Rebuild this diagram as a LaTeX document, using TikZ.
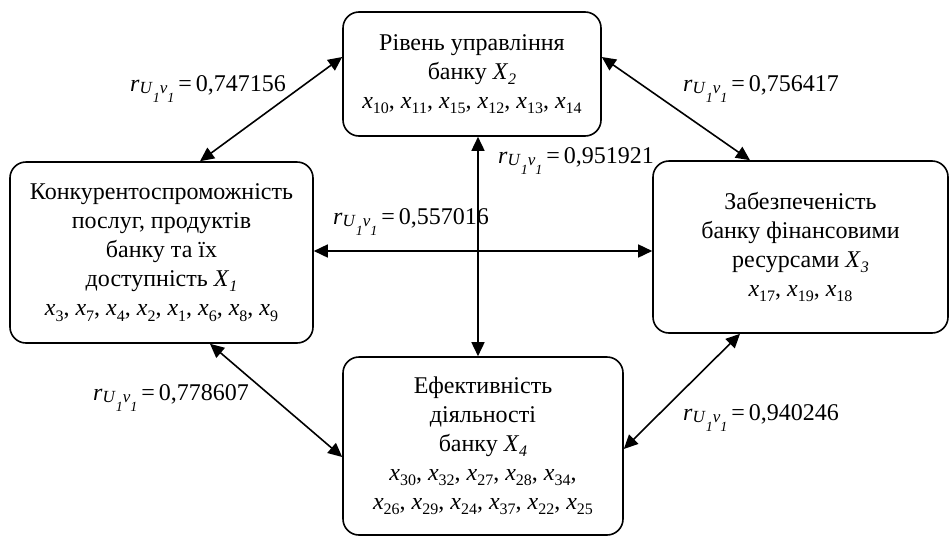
\documentclass[tikz,border=0pt]{standalone}
\usepackage{fontspec}
\setmainfont{Liberation Serif}
\usetikzlibrary{arrows.meta,calc}
\newcommand{\xs}[1]{\textit{x}\raisebox{-0.22em}{\fontsize{16}{16}\selectfont #1}}
\newcommand{\Xs}[1]{\textit{X}\raisebox{-0.2em}{\fontsize{16}{16}\selectfont\textit{#1}}}
\newcommand{\rl}[1]{\textit{r}\raisebox{-2pt}{\fontsize{17}{17}\selectfont\textit{U}\raisebox{-9pt}{\fontsize{14}{14}\selectfont\textit{1}}\textit{v}\raisebox{-9pt}{\fontsize{14}{14}\selectfont\textit{1}}}\,=\,#1}
\begin{document}
\begin{tikzpicture}[x=1pt,y=-1pt,
  box/.style={draw,line width=1.6pt,rounded corners=16pt,align=center,inner sep=0pt,
    font=\fontsize{24}{29}\selectfont},
  lbl/.style={font=\fontsize{24}{29}\selectfont,inner sep=0pt},
  link/.style={line width=1.6pt,{Triangle[length=14pt,width=13pt]}-{Triangle[length=14pt,width=13pt]}}]
\useasboundingbox (0,0) rectangle (950,536);
\node[box,minimum width=258pt,minimum height=124pt] (X2) at (472,74)
  {Рівень управління\\ банку \Xs{2}\\ \xs{10}, \xs{11}, \xs{15}, \xs{12}, \xs{13}, \xs{14}};
\node[box,minimum width=303pt,minimum height=181pt] (X1) at (161.5,252.5)
  {Конкурентоспроможність\\ послуг, продуктів\\ банку та їх\\ доступність \Xs{1}\\ \xs{3}, \xs{7}, \xs{4}, \xs{2}, \xs{1}, \xs{6}, \xs{8}, \xs{9}};
\node[box,minimum width=295pt,minimum height=172pt] (X3) at (800.5,247)
  {Забезпеченість\\ банку фінансовими\\ ресурсами \Xs{3}\\ \xs{17}, \xs{19}, \xs{18}};
\node[box,minimum width=280pt,minimum height=178pt] (X4) at (483,446)
  {Ефективність\\ діяльності\\ банку \Xs{4}\\ \xs{30}, \xs{32}, \xs{27}, \xs{28}, \xs{34},\\ \xs{26}, \xs{29}, \xs{24}, \xs{37}, \xs{22}, \xs{25}};
\draw[link] (X1.north -| 200,0) -- (X2.west |- 0,57);
\draw[link] (X2.east |- 0,57) -- (X3.north -| 750,0);
\draw[link] (X1.south -| 210,0) -- (X4.west |- 0,457);
\draw[link] (X3.south -| 740,0) -- (X4.east |- 0,449);
\draw[link] (X2.south -| 478,0) -- (X4.north -| 478,0);
\draw[link] (X1.east |- 0,251) -- (X3.west |- 0,251);
\node[lbl,anchor=base west] (l1) at (130,91) {\rl{0,747156}};
\node[lbl,anchor=base west] (l2) at (683,91) {\rl{0,756417}};
\node[lbl,anchor=base west] (l3) at (498,163) {\rl{0,951921}};
\node[lbl,anchor=base west] (l4) at (333,224) {\rl{0,557016}};
\node[lbl,anchor=base west] (l5) at (93,400) {\rl{0,778607}};
\node[lbl,anchor=base west] (l6) at (683,420) {\rl{0,940246}};
\end{tikzpicture}
\end{document}
